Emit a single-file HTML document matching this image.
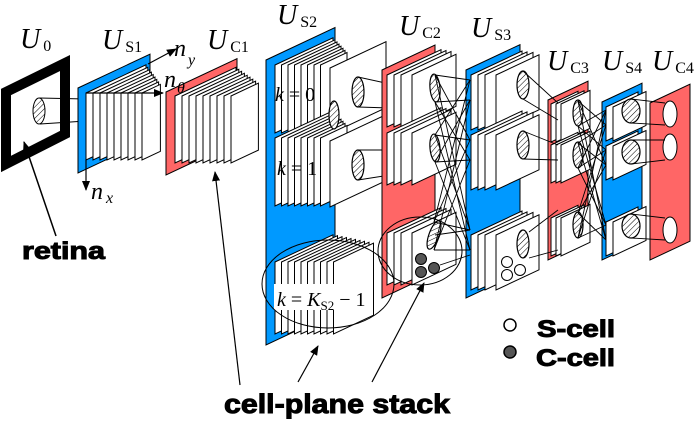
<!DOCTYPE html>
<html><head><meta charset="utf-8"><style>
html,body{margin:0;padding:0;background:#fff;}
svg{display:block;}
.lab{font-family:"Liberation Serif",serif;}
.b{font-family:"Liberation Sans",sans-serif;font-weight:bold;stroke:#000;stroke-width:1;}
</style></head><body>
<svg id="fig" width="698" height="425" viewBox="0 0 698 425" xmlns="http://www.w3.org/2000/svg">
<defs>
<pattern id="hatch" width="4" height="4" patternUnits="userSpaceOnUse" patternTransform="rotate(45)">
<rect width="4" height="4" fill="#fff"/><line x1="0" y1="0" x2="0" y2="4" stroke="#000" stroke-width="1"/>
</pattern>
<marker id="ah" markerWidth="10" markerHeight="8" refX="9" refY="4" orient="auto" markerUnits="userSpaceOnUse">
<path d="M0,0 L10,4 L0,8 z" fill="#000"/></marker>
</defs>
<g id="layers"></g>
<g id="over"></g>
</svg>
<script>
const S=0.47, BLUE="#0099ff", RED="#ff6666";
const ns="http://www.w3.org/2000/svg";
const layersG=document.getElementById('layers');
const overG=document.getElementById('over');
function mk(tag,attrs,parent){const e=document.createElementNS(ns,tag);for(const k in attrs)e.setAttribute(k,attrs[k]);(parent||layersG).appendChild(e);return e;}
function pts(a){return a.map(p=>p.join(',')).join(' ');}
function para(xl,yl,xr,h){const d=(xr-xl)*S;return [[xl,yl],[xr,yl-d],[xr,yl-d+h],[xl,yl+h]];}

let r=mk('polygon',{points:pts([[6,92],[65,63],[65,134],[6,164]]),fill:'#fff',stroke:'#000','stroke-width':10});


mk('line',{x1:39,y1:98,x2:86,y2:99,stroke:'#000'});
mk('line',{x1:40,y1:124,x2:86,y2:121,stroke:'#000'});
mk('ellipse',{cx:39,cy:111,rx:6,ry:13,fill:'url(#hatch)',stroke:'#000'});

function frame(name,col,xl,yl,xr,h){
  const e=mk('polygon',{points:pts(para(xl,yl,xr,h)),fill:col,stroke:'#000','stroke-width':1});
  
  
}
function stack(name,xs,yl,xrs,h){
  xs.forEach((x,i)=>{
    const e=mk('polygon',{points:pts(para(x,yl,xrs[i],h)),fill:'#fff',stroke:'#000','stroke-width':1});
    
    
  });
}
function range(a,n,d){return Array.from({length:n},(_,i)=>a+i*d);}
function hat(cx,cy,rx,ry,rot){mk('ellipse',{cx:cx,cy:cy,rx:rx,ry:ry,fill:'url(#hatch)',stroke:'#000','stroke-width':1.2,transform:`rotate(${rot||0} ${cx} ${cy})`});}
function ln(a,b,c,d){mk('line',{x1:a,y1:b,x2:c,y2:d,stroke:'#000','stroke-width':0.9});}

frame('us1-frame',BLUE,78,88,150,85);
stack('us1',range(86,9,7),93,range(146,9,1.8),67);
frame('uc1-frame',RED,166,92,237,83);
stack('uc1',range(175,9,7),96,range(236,9,2.8),67);
frame('us2-frame',BLUE,266,60,335,285);
stack('us2-k0',range(275,8,6.5),65,range(333,8,2),68);
stack('us2-k0b',[330],68,[386],66);
stack('us2-k1',range(275,8,6.5),138,range(333,8,2),68);
stack('us2-k1b',[330],141,[386],66);
stack('us2-kK',range(275,10,6.5),262,range(333,10,4.5),72);
hat(334,115,5,14);hat(358,92,6,15);hat(358,165,6,15);
ln(358,77,390,84);ln(358,107,390,108);ln(358,150,390,150);ln(358,180,390,175);
mk('rect',{x:274,y:284,width:74,height:26,fill:'#fff'});
frame('uc2-frame',RED,382,70,435,228);
stack('uc2-k0',[387,394,401,412],75,[441,446,451,456],52);
stack('uc2-k1',[387,394,401,412],133,[441,446,451,456],52);
stack('uc2-kK',[387,394,401,412],233,[441,446,451,456],52);
frame('us3-frame',BLUE,466,70,520,228);
stack('us3-k0',[471,478,485,496],75,[522,527,533,539],55);
stack('us3-k1',[471,478,485,496],135,[522,527,533,539],55);
stack('us3-kK',[471,478,485,496],235,[522,527,533,539],55);
frame('uc3-frame',RED,548,100,588,160);
stack('uc3-k0',[551,556,561],104,[578,584,590],38);
stack('uc3-k1',[551,556,561],145,[578,584,590],38);
stack('uc3-k2',[551,556,561],218,[578,584,590],38);
frame('us4-frame',BLUE,602,102,642,158);
stack('us4-k0',[606,613],107,[638,646],34);
stack('us4-k1',[606,613],146,[638,646],34);
stack('us4-k2',[606,613],222,[638,646],34);
frame('uc4-frame',RED,650,103,690,157);

hat(435,88,5,14,-5);hat(435,148,5,14,-5);hat(434,235,5,15,20);
hat(523,85,6,14);hat(523,145,6,14);hat(523,244,6,14);
hat(578,113,5,13);hat(578,155,5,13);hat(578,225,5,13);
hat(631,111,9,12);hat(631,152,9,12);hat(631,226,9,12);
[[670,114],[670,147],[670,230]].forEach(p=>{const e=mk('ellipse',{cx:p[0],cy:p[1],rx:7,ry:13,fill:'#fff',stroke:'#000'});});
[[421,259],[421,272],[434,268]].forEach(p=>mk('circle',{cx:p[0],cy:p[1],r:5.5,fill:'#555',stroke:'#000'}));
[[507,262],[507,275],[520,270]].forEach(p=>mk('circle',{cx:p[0],cy:p[1],r:5.5,fill:'#fff',stroke:'#000'}));

const C2=[[435,75],[435,102],[435,135],[435,162],[434,222],[434,250]];
const S3t=[[470,80],[470,100],[470,140],[470,160],[470,230],[470,250]];
C2.forEach((a,i)=>S3t.forEach((b,j)=>{if((i+j)%2==0)ln(a[0],a[1],b[0],b[1]);}));
ln(523,71,558,103);ln(523,99,558,120);ln(523,131,558,145);ln(523,159,558,160);ln(529,232,558,210);ln(529,258,558,250);
const C3=[[578,101],[578,126],[578,143],[578,168],[578,213],[578,238]];
const S4t=[[606,110],[606,125],[606,150],[606,165],[606,225],[606,240]];
C3.forEach((a,i)=>S4t.forEach((b,j)=>{if((i+j)%2==1)ln(a[0],a[1],b[0],b[1]);}));
ln(631,99,665,103);ln(631,123,665,125);ln(631,140,665,140);ln(631,164,665,160);ln(631,214,665,218);ln(631,238,665,240);
ln(435,235,470,230);ln(440,265,470,255);

mk('ellipse',{cx:328,cy:284,rx:66,ry:44,fill:'none',stroke:'#000','stroke-width':1},overG);
mk('ellipse',{cx:420,cy:251,rx:42,ry:34,fill:'none',stroke:'#000','stroke-width':1},overG);
function arrow(name,x1,y1,x2,y2,w){const e=mk('line',{x1:x1,y1:y1,x2:x2,y2:y2,stroke:'#000','stroke-width':w||1.2,'marker-end':'url(#ah)'},overG);}
arrow('retina-arrow',56,236,24,142,1.5);
arrow('stack-arrow-1',240,385,215,172);
arrow('stack-arrow-2',298,382,318,346);
arrow('stack-arrow-3',372,382,424,283);
arrow('ny-arrow',148,64,176,49);
arrow('ntheta-arrow',86,93,163,93);
arrow('nx-arrow',86,160,86,190);

function rich(name,x,y,parts){
  const e=mk('text',{x:x,y:y,class:'lab'},overG);
  
  
  parts.forEach(p=>{const t=document.createElementNS(ns,'tspan');t.textContent=p[0];t.setAttribute('font-size',p[1]);if(p[2])t.setAttribute('font-style','italic');if(p[3]!=null)t.setAttribute('dx',p[3]);if(p[4]!=null)t.setAttribute('dy',p[4]);e.appendChild(t);});
}
function U(name,x,y,sub){rich(name,x,y,[['U',28,true],[sub,16,false,3,3]]);}
function txt(name,x,y,s,size,cls,len){const e=mk('text',{x:x,y:y,'font-size':size,class:cls,textLength:len,lengthAdjust:'spacingAndGlyphs'},overG);e.textContent=s;}
U('u0-label',20,48,'0');U('us1-label',102,49,'S1');U('uc1-label',207,49,'C1');U('us2-label',277,24,'S2');
U('uc2-label',399,35,'C2');U('us3-label',471,37,'S3');U('uc3-label',547,70,'C3');U('us4-label',602,70,'S4');U('uc4-label',652,70,'C4');
rich('ny-label',174,56,[['n',24,true],['y',16,true,2,9]]);
rich('ntheta-label',164,87,[['n',24,true],['θ',16,true,1,6]]);
rich('nx-label',91,199,[['n',24,true],['x',16,true,3,4]]);
rich('k0-label',275,101,[['k',20,true],[' = 0',20,false]]);
rich('k1-label',277,175,[['k',20,true],[' = 1',20,false]]);
rich('kK-label',277,306,[['k',20,true],[' = ',20,false],['K',20,true],['S2',13,false,0,4],[' − 1',20,false,0,-4]]);
txt('retina-label',22,259,'retina',24,'b',83);
txt('stack-label',224,413,'cell-plane stack',27,'b',226);
mk('circle',{cx:510,cy:325,r:6,fill:'#fff',stroke:'#000','stroke-width':1.5},overG);
mk('circle',{cx:510,cy:352,r:6,fill:'#555',stroke:'#000','stroke-width':1.5},overG);
txt('s-cell-legend',537,337,'S-cell',24,'b',78);txt('c-cell-legend',536,366,'C-cell',24,'b',79);
</script>
</body></html>
